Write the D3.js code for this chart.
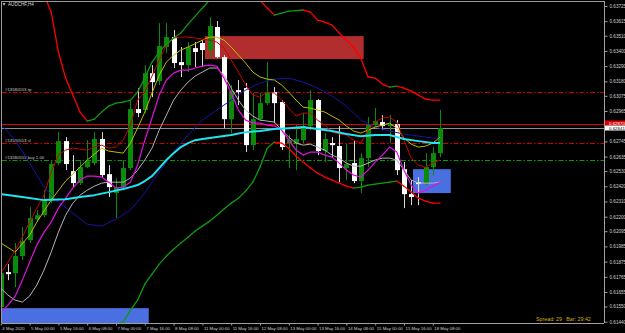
<!DOCTYPE html>
<html><head><meta charset="utf-8">
<script src="https://cdn.jsdelivr.net/npm/d3@7"></script>
<style>html,body{margin:0;padding:0;background:#000;overflow:hidden}svg{display:block}text{font-family:"Liberation Sans","DejaVu Sans",sans-serif}</style>
</head><body><svg id="c" width="625" height="333"></svg>
<script>
// ---------- DATA (AUDCHF H4, bar index 0 = 4 May 2020 08:00) ----------
const opens = [0.61545,0.61799,0.61791,0.61915,0.62030,0.62182,0.62211,0.62320,0.62588,0.62747,
0.62530,0.62443,0.62559,0.62588,0.62762,0.62508,0.62371,0.62414,0.62552,0.62979,
0.62972,0.63239,0.63182,0.63428,0.63500,0.63319,0.63297,0.63420,0.63457,0.63406,
0.63573,0.63355,0.62906,0.63116,0.63131,0.62718,0.62906,0.63022,0.63102,0.63030,
0.62733,0.62725,0.62754,0.62856,0.63044,0.62675,0.62733,0.62711,0.62552,0.62588,
0.62458,0.62624,0.62863,0.62885,0.62856,0.62870,0.62544,0.62363,0.62450,0.62443,
0.62559,0.62660];
const highs = [0.61828,0.61857,0.62009,0.62125,0.62269,0.62248,0.62392,0.62610,0.62812,0.62776,
0.62646,0.62610,0.62754,0.62812,0.62812,0.62573,0.62479,0.62610,0.63044,0.63131,
0.63297,0.63297,0.63601,0.63601,0.63551,0.63428,0.63464,0.63464,0.63478,0.63645,
0.63616,0.63370,0.63153,0.63189,0.63167,0.63095,0.63095,0.63319,0.63138,0.63044,
0.62791,0.62863,0.62950,0.63116,0.63051,0.62805,0.62776,0.62856,0.62725,0.62754,
0.62660,0.62921,0.62986,0.62935,0.62935,0.62899,0.62595,0.62465,0.62487,0.62660,
0.62704,0.62972];
const lows = [0.61524,0.61741,0.61690,0.61886,0.62009,0.62161,0.62197,0.62298,0.62573,0.62537,
0.62414,0.62429,0.62552,0.62573,0.62487,0.62342,0.62190,0.62392,0.62537,0.62921,
0.62950,0.63066,0.63153,0.63384,0.63276,0.63211,0.63247,0.63283,0.63283,0.63355,
0.63348,0.62841,0.62805,0.63008,0.62668,0.62682,0.62892,0.63008,0.62877,0.62682,
0.62552,0.62537,0.62733,0.62827,0.62646,0.62595,0.62631,0.62450,0.62465,0.62443,
0.62371,0.62559,0.62849,0.62827,0.62733,0.62501,0.62262,0.62284,0.62284,0.62429,
0.62501,0.62631];
const closes = [0.61791,0.61784,0.61915,0.62023,0.62190,0.62211,0.62320,0.62581,0.62747,0.62581,
0.62443,0.62559,0.62602,0.62762,0.62501,0.62414,0.62414,0.62552,0.62979,0.62950,
0.63239,0.63174,0.63435,0.63500,0.63312,0.63297,0.63428,0.63392,0.63406,0.63580,
0.63355,0.62906,0.63109,0.63102,0.62718,0.62906,0.63022,0.63102,0.63022,0.62704,
0.62754,0.62762,0.62856,0.63044,0.62675,0.62762,0.62718,0.62552,0.62581,0.62458,
0.62624,0.62863,0.62892,0.62856,0.62870,0.62537,0.62363,0.62342,0.62436,0.62559,
0.62660,0.62841];

const _ = null;
const upperBand = [_,_,_,_,_,0.63949,0.63804,0.63681,0.63392,0.63203,
0.63080,0.62957,0.62892,0.62906,0.62957,0.63001,0.63022,0.63030,0.63044,0.63102,
0.63203,0.63319,0.63392,0.63449,0.63493,0.63529,0.63594,0.63652,0.63710,0.63768,
0.63826,0.63855,0.63869,0.63869,0.63840,0.63804,0.63768,0.63710,0.63659,0.63674,
0.63688,0.63692,0.63696,0.63681,0.63623,0.63609,0.63587,0.63529,0.63478,0.63428,
0.63348,0.63211,0.63203,0.63160,0.63138,0.63145,0.63131,0.63109,0.63080,0.63051,
0.63044,0.63044];
const lowerBand = [_,_,_,_,_,_,_,_,_,_,_,_,_,_,_,0.61380,0.61415,0.61437,0.61524,0.61596,
0.61712,0.61784,0.61857,0.61915,0.61965,0.62009,0.62052,0.62096,0.62132,0.62168,
0.62211,0.62255,0.62298,0.62334,0.62385,0.62450,0.62559,0.62696,0.62740,0.62733,
0.62696,0.62639,0.62595,0.62552,0.62515,0.62487,0.62465,0.62443,0.62421,0.62407,
0.62414,0.62429,0.62436,0.62443,0.62450,0.62458,0.62421,0.62378,0.62334,0.62313,
0.62298,0.62298];
const fastMA = [0.61791,0.61871,0.61958,0.62052,0.62161,0.62262,0.62356,0.62523,0.62646,0.62682,
0.62696,0.62689,0.62682,0.62704,0.62718,0.62696,0.62704,0.62754,0.62863,0.63044,
0.63102,0.63218,0.63334,0.63442,0.63493,0.63500,0.63500,0.63493,0.63486,0.63478,
0.63464,0.63420,0.63334,0.63247,0.63153,0.63080,0.63066,0.63102,0.63095,0.63044,
0.62986,0.62928,0.62950,0.62950,0.62899,0.62863,0.62812,0.62798,0.62791,0.62754,
0.62733,0.62827,0.62885,0.62914,0.62921,0.62885,0.62754,0.62624,0.62573,0.62559,
0.62588,0.62610];
const yellowMA = [0.62009,_,0.61944,_,0.62066,0.62161,_,0.62320,_,0.62458,
_,0.62559,0.62610,_,0.62696,0.62675,_,0.62660,0.62733,0.62841,
0.62957,0.63095,0.63225,0.63319,0.63370,0.63406,0.63428,_,0.63478,0.63500,
0.63500,0.63478,0.63428,0.63370,0.63312,0.63247,0.63211,0.63196,0.63189,0.63153,
0.63102,0.63044,0.62993,0.62986,0.62972,0.62957,0.62928,0.62899,0.62856,0.62820,
0.62805,0.62827,0.62849,0.62863,0.62877,0.62841,0.62769,0.62725,0.62704,0.62711,
0.62733,0.62776];
const magentaMA = [0.61509,0.61560,0.61625,0.61741,0.61871,0.61994,0.62088,0.62161,0.62262,0.62334,
0.62407,0.62465,0.62494,0.62494,0.62487,0.62450,0.62407,0.62414,0.62450,0.62573,
0.62754,0.62914,0.63080,0.63189,0.63239,0.63261,0.63261,0.63276,0.63290,0.63297,
0.63290,0.63203,0.63095,0.62972,0.62899,0.62877,0.62877,0.62863,0.62856,0.62827,
0.62754,0.62682,0.62646,0.62668,0.62668,0.62646,0.62631,0.62588,0.62537,0.62501,
0.62487,0.62537,0.62595,0.62646,0.62704,0.62668,0.62537,0.62429,0.62371,0.62392,
0.62421,0.62450];
const grayMA = [0.61683,0.61632,0.61596,0.61582,0.61625,0.61705,0.61813,0.61944,0.62088,0.62211,
0.62298,0.62356,0.62392,0.62421,0.62443,0.62450,0.62450,0.62450,0.62479,0.62537,
0.62610,0.62696,0.62827,0.62935,0.63044,0.63116,0.63174,0.63218,0.63247,0.63276,
0.63276,0.63225,0.63131,0.63044,0.62972,0.62928,0.62899,0.62892,0.62885,0.62827,
0.62776,0.62733,0.62718,0.62725,0.62704,0.62682,0.62646,0.62624,0.62588,0.62566,
0.62566,0.62588,0.62610,0.62624,0.62624,0.62610,0.62537,0.62465,0.62443,0.62443,
0.62443,0.62450];
const cyanMA = [0.62363,_,_,0.62342,_,_,0.62320,_,_,0.62327,
_,0.62342,_,0.62356,_,0.62378,_,0.62400,0.62414,0.62429,
0.62458,0.62494,0.62552,0.62610,0.62660,0.62704,0.62733,0.62754,0.62762,0.62769,
0.62776,_,0.62791,_,0.62812,_,0.62820,_,0.62834,_,
0.62841,_,0.62849,_,0.62834,_,0.62820,_,0.62798,_,
0.62783,_,0.62791,_,0.62791,_,0.62762,_,0.62747,_,
0.62733,0.62733];
const navyMA = [0.62870,_,0.62754,_,0.62588,_,0.62414,_,0.62306,_,
0.62226,_,0.62146,_,0.62132,_,0.62182,_,0.62248,_,
0.62371,_,0.62523,_,0.62668,_,0.62791,_,0.62899,_,
0.62972,_,0.63044,_,0.63116,_,0.63167,_,0.63196,_,
0.63203,_,0.63174,_,0.63131,_,0.63073,_,0.63001,_,
0.62899,_,0.62849,_,0.62820,_,0.62798,_,0.62783,_,
0.62769,0.62769];

const xTickIdx = [0,4,8,12,16,20,24,28,32,36,40,44,48,52,56,60];
const xTickLabels = ["4 May 2020","5 May 00:00","5 May 16:00","6 May 08:00","7 May 00:00","7 May 16:00",
"8 May 08:00","11 May 00:00","11 May 16:00","12 May 08:00","13 May 00:00","13 May 16:00",
"14 May 08:00","15 May 00:00","15 May 16:00","18 May 08:00"];
const yTicks = [0.63725,0.63615,0.63510,0.63400,0.63290,0.63180,0.63075,0.62965,0.62745,
0.62635,0.62530,0.62420,0.62310,0.62200,0.62095,0.61985,0.61875,0.61765,0.61655,0.61550,0.61440];

const askPrice = 0.62870, bidPrice = 0.62841;
const orderLevels = [
  {label:"#13580553 tp", price:0.63100, color:"#d00000"},
  {label:"#13580553 sl", price:0.62730, color:"#d00000"},
  {label:"#13580553 buy 1.00", price:0.62608, color:"#00a000"}];
const boxes = [
  {from:28.35, to:50.4, top:0.63507, bottom:0.63341, color:"#b22e2e"},
  {from:0.15, to:20.55, top:0.61538, bottom:0.61380, color:"#4a6fe0"},
  {from:57.25, to:62.5, top:0.62544, bottom:0.62371, color:"#4a6fe0"}];
const title = "AUDCHF,H4";
const infoText = "Spread: 29   Bar: 29:42";

// ---------- CHART ----------
const W = 625, H = 333;
const L = 2, R = 604, T = 1, B = 323;
const svg = d3.select("#c");
svg.append("rect").attr("width",W).attr("height",H).attr("fill","#000");

const x = d3.scaleLinear().domain([0,61]).range([0.8,440]);
const y = d3.scaleLinear().domain([0.61440,0.63725]).range([321.7,6]);

svg.append("defs").append("clipPath").attr("id","plot")
  .append("rect").attr("x",L).attr("y",T).attr("width",R-L).attr("height",B-T);
const g = svg.append("g").attr("clip-path","url(#plot)");

// boxes
g.selectAll("rect.box").data(boxes).enter().append("rect")
  .attr("x",d=>x(d.from)).attr("width",d=>x(d.to)-x(d.from))
  .attr("y",d=>y(d.top)).attr("height",d=>y(d.bottom)-y(d.top))
  .attr("fill",d=>d.color);

// order lines
orderLevels.forEach(o=>{
  g.append("line").attr("x1",L).attr("x2",R)
    .attr("y1",Math.round(y(o.price))+0.5).attr("y2",Math.round(y(o.price))+0.5)
    .attr("stroke",o.color).attr("stroke-width",1).attr("stroke-dasharray","5,2,1.5,2");
  g.append("text").attr("x",5).attr("y",y(o.price)-1.6).text(o.label)
    .attr("fill","#c8c8c8").attr("font-size",4.3);
});
// ask / bid
g.append("line").attr("x1",L).attr("x2",R).attr("y1",Math.round(y(askPrice))+0.5).attr("y2",Math.round(y(askPrice))+0.5)
  .attr("stroke","#e00000").attr("stroke-width",1);
g.append("line").attr("x1",L).attr("x2",R).attr("y1",Math.round(y(bidPrice))+0.5).attr("y2",Math.round(y(bidPrice))+0.5)
  .attr("stroke","#8a8f98").attr("stroke-width",1);

// candles
const idx = d3.range(opens.length);
const bull = i => closes[i] >= opens[i];
const cw = 5;
g.selectAll("line.wick").data(idx).enter().append("line")
  .attr("x1",i=>Math.round(x(i))+0.5).attr("x2",i=>Math.round(x(i))+0.5)
  .attr("y1",i=>y(highs[i])).attr("y2",i=>y(lows[i]))
  .attr("stroke",i=>bull(i)?"#0a8c0a":"#d8d8d8").attr("stroke-width",1);
g.selectAll("rect.body").data(idx).enter().append("rect")
  .attr("x",i=>Math.round(x(i))+0.5-cw/2).attr("width",cw)
  .attr("y",i=>y(Math.max(opens[i],closes[i])))
  .attr("height",i=>Math.max(1.2,Math.abs(y(opens[i])-y(closes[i]))))
  .attr("fill",i=>bull(i)?"#0a8c0a":"#ffffff");

// indicator lines
const pts = arr => arr.map((v,i)=>[i,v]).filter(d=>d[1]!=null);
const line = d3.line().x(d=>x(d[0])).y(d=>y(d[1]));
function drawLine(arr,color,w){
  g.append("path").attr("d",line(pts(arr))).attr("fill","none")
    .attr("stroke",color).attr("stroke-width",w).attr("stroke-linejoin","round");
}
function drawBand(arr){
  const p = pts(arr); let prev = "#ff0000";
  for(let k=0;k<p.length-1;k++){
    const c = p[k+1][1]>p[k][1] ? "#0f9a0f" : (p[k+1][1]<p[k][1] ? "#ff0000" : prev);
    prev = c;
    g.append("path").attr("d",line([p[k],p[k+1]])).attr("fill","none")
      .attr("stroke",c).attr("stroke-width",1.3).attr("stroke-linecap","round");
  }
}
drawLine(navyMA,"#1414a8",1);
drawLine(grayMA,"#b4b4b4",1);
drawLine(magentaMA,"#e010e0",1.2);
drawLine(yellowMA,"#bcbc00",1);
drawLine(fastMA,"#c80000",1);
drawLine(cyanMA,"#20e4f0",2);
drawBand(upperBand);
drawBand(lowerBand);

// frame
svg.append("line").attr("x1",1.5).attr("x2",1.5).attr("y1",T).attr("y2",B).attr("stroke","#9a9a9a");
svg.append("line").attr("x1",1.5).attr("x2",R).attr("y1",1.5).attr("y2",1.5).attr("stroke","#9a9a9a");

// right axis
const ya = svg.append("g").attr("transform",`translate(${R+0.5},0)`)
  .call(d3.axisRight(y).tickValues(yTicks).tickSize(3).tickSizeOuter(0).tickFormat(d=>d.toFixed(5)));
ya.select(".domain").attr("stroke","#a0a0a0").attr("d",`M0,${T}V${B}`);
ya.selectAll(".tick line").attr("stroke","#a0a0a0");
ya.selectAll(".tick text").attr("fill","#d0d0d0").attr("font-size",4.6).attr("x",5)
  .attr("font-family","Liberation Sans, DejaVu Sans, sans-serif");

// bottom axis
const xa = svg.append("g").attr("transform",`translate(0,${B+0.5})`)
  .call(d3.axisBottom(x).tickValues(xTickIdx).tickSize(2).tickSizeOuter(0).tickFormat((d,i)=>xTickLabels[i]));
xa.select(".domain").attr("stroke","#a0a0a0").attr("d",`M1.5,0H${R}`);
xa.selectAll(".tick line").attr("stroke","#a0a0a0");
xa.selectAll(".tick text").attr("fill","#d0d0d0").attr("font-size",4.3)
  .attr("text-anchor","start").attr("x",1).attr("y",3).attr("dy","0.71em")
  .attr("font-family","Liberation Sans, DejaVu Sans, sans-serif");

// price labels (ask above, bid below)
function priceLabel(p,bg,fg,top){
  svg.append("rect").attr("x",R+1).attr("y",top).attr("width",W-R-1).attr("height",5).attr("fill",bg);
  svg.append("text").attr("x",R+5).attr("y",top+4.1).text(p.toFixed(5)).attr("fill",fg).attr("font-size",4.4);
}
priceLabel(askPrice,"#e00000","#ffffff",Math.round(y(askPrice))-3.5);
priceLabel(bidPrice,"#ffffff","#000000",Math.round(y(askPrice))+1.5);

// title and info
svg.append("path").attr("d","M2.5,3.2L5.5,3.2L4,5.4Z").attr("fill","#e0e0e0");
svg.append("text").attr("x",8).attr("y",6).text(title).attr("fill","#d8d8d8").attr("font-size",4.6);
svg.append("text").attr("x",536).attr("y",320.8).text(infoText).attr("fill","#d8b400").attr("font-size",5.3)
  .attr("xml:space","preserve").style("white-space","pre");
</script></body></html>
